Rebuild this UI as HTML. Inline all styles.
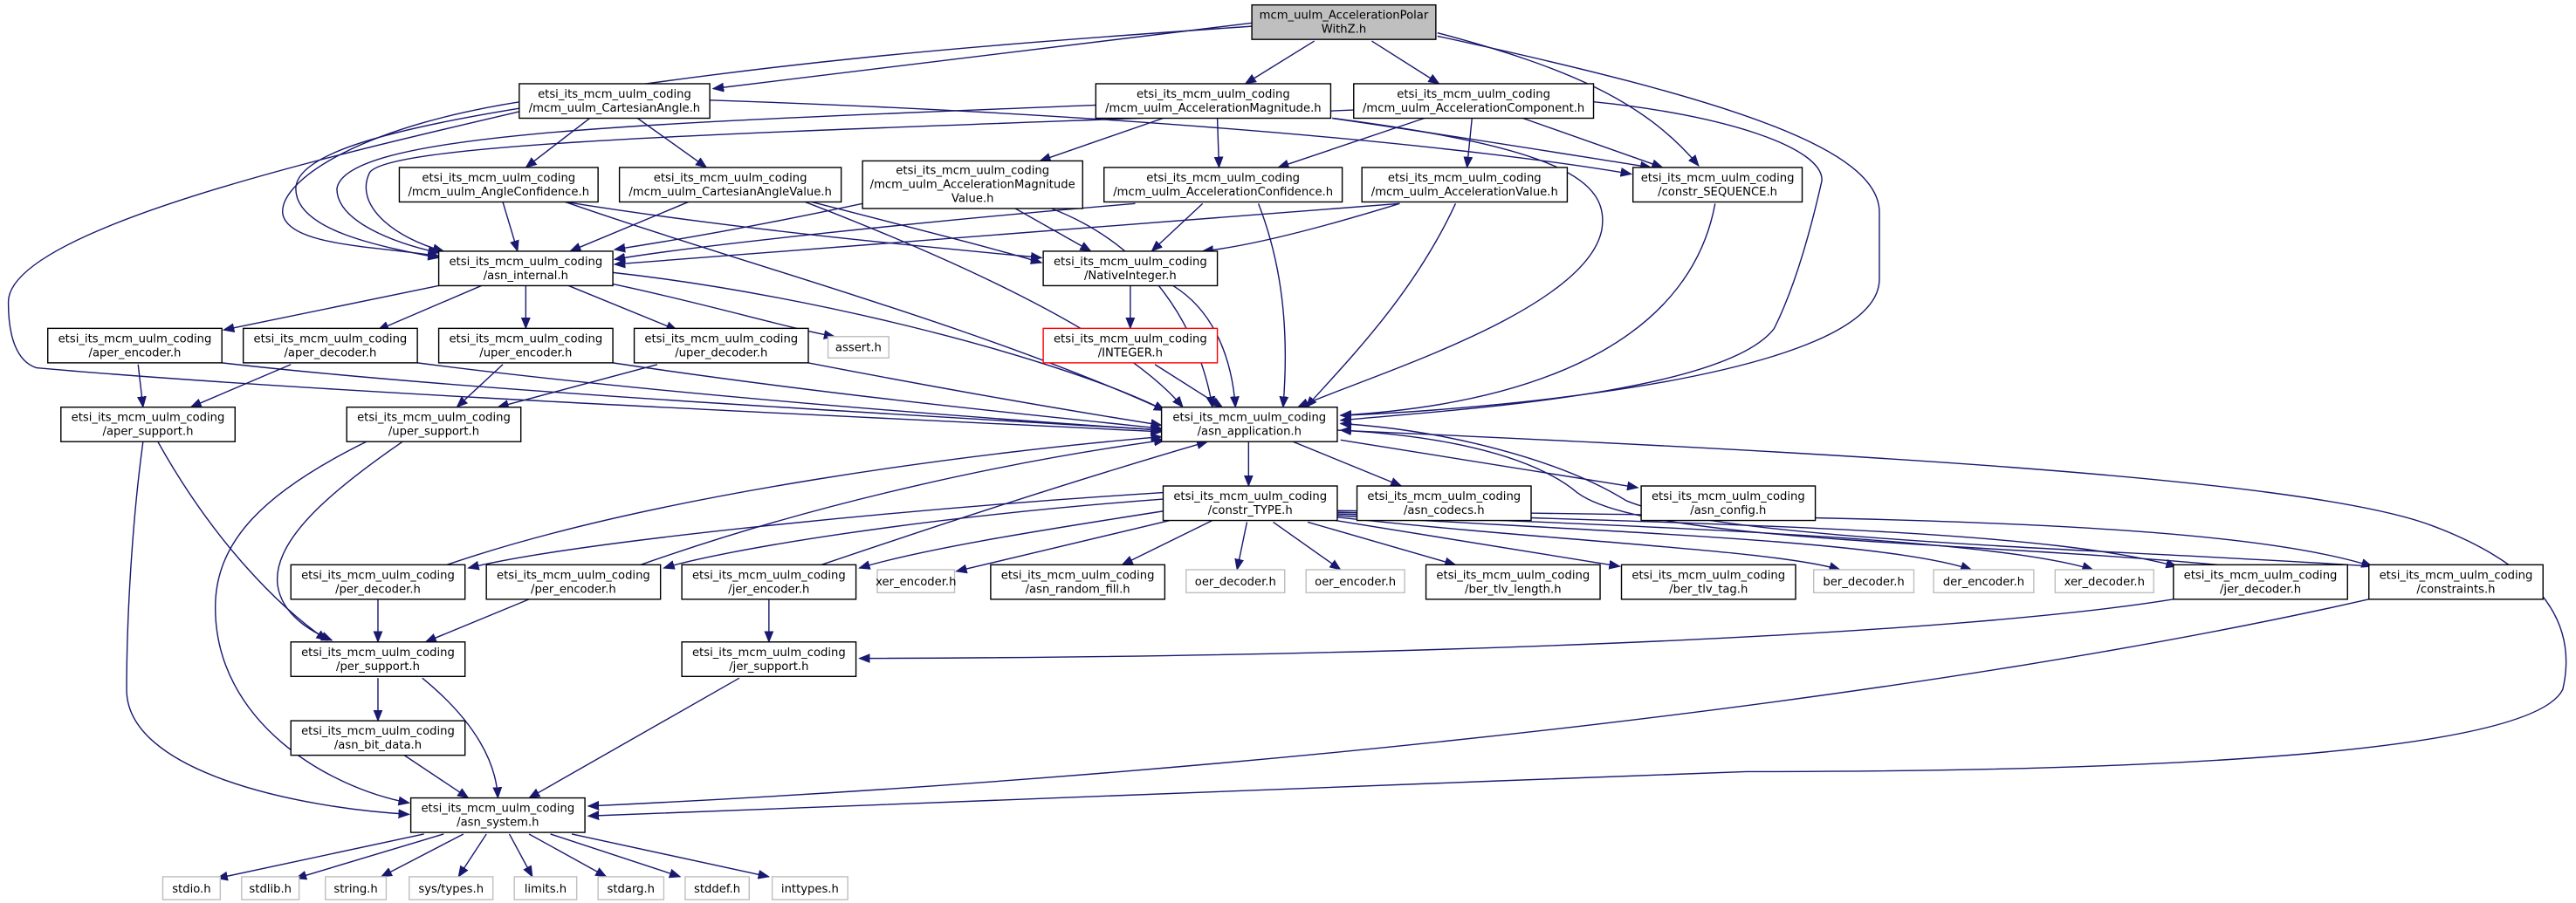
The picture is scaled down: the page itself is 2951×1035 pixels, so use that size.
<!DOCTYPE html>
<html><head><meta charset="utf-8"><style>
html,body{margin:0;padding:0;background:#fff;}
svg{display:block;}
text{font-family:"DejaVu Sans","Liberation Sans",sans-serif;font-size:7px;fill:#000;text-anchor:middle;}
.n{fill:#fff;stroke:#000;stroke-width:0.75;}
.g{fill:#fff;stroke:#bfbfbf;stroke-width:0.75;}
.r{fill:#fff;stroke:#ff0000;stroke-width:0.75;}
.root{fill:#bfbfbf;stroke:#000;stroke-width:0.75;}
path.e{fill:none;stroke:#191970;stroke-width:0.75;marker-end:url(#a);}
</style></head><body>
<svg width="2951" height="1035" viewBox="0 0 1568 550" xmlns="http://www.w3.org/2000/svg">
<defs><marker id="a" markerWidth="8" markerHeight="6" refX="6.5" refY="3" orient="auto" markerUnits="userSpaceOnUse"><path d="M0,0.4 L6.5,3 L0,5.6 z" fill="#191970" stroke="#191970" stroke-width="0.5"/></marker></defs>

<!-- edges -->
<g>
<path class="e" d="M762,14 L434,54"/>
<path class="e" d="M762,16 C560,30 480,38 330,60 C220,75 170,110 172,130 C175,150 230,150 267,156"/>
<path class="e" d="M800,25 L758,51"/>
<path class="e" d="M835,25 L876,51"/>
<path class="e" d="M875,20 C950,40 1000,60 1034,101"/>
<path class="e" d="M875,22 C1050,60 1145,90 1144,130 L1144,170 C1144,230 900,250 816,253"/>
<path class="e" d="M970,62 C1050,70 1110,90 1109,110 C1100,150 1090,180 1080,200 C1050,240 880,250 816,256"/>
<path class="e" d="M316,66 C230,80 180,95 180,115 C180,140 230,150 267,157"/>
<path class="e" d="M316,68 C200,95 5,140 5,184 C5,205 10,220 22,224 C200,240 550,255 707,263"/>
<path class="e" d="M359,72 L320,102"/>
<path class="e" d="M388,72 L430,102"/>
<path class="e" d="M432,61 C700,70 900,90 993,106"/>
<path class="e" d="M708,72 L633,98"/>
<path class="e" d="M741,72 L742,102"/>
<path class="e" d="M811,72 C900,85 960,95 1005,102"/>
<path class="e" d="M667,64 C400,75 210,80 205,115 C205,135 240,148 267,154"/>
<path class="e" d="M811,72 C950,90 980,110 975,140 C965,190 830,230 790,248"/>
<path class="e" d="M867,72 L778,102"/>
<path class="e" d="M896,72 L893,102"/>
<path class="e" d="M927,72 L1012,102"/>
<path class="e" d="M824,67 C500,80 240,85 225,105 C215,125 240,145 270,153"/>
<path class="e" d="M306,123 L315,153"/>
<path class="e" d="M344,123 C450,140 560,150 634,157"/>
<path class="e" d="M344,123 C450,160 600,200 709,250"/>
<path class="e" d="M419,123 L347,153"/>
<path class="e" d="M494,123 C560,140 600,150 634,160"/>
<path class="e" d="M490,123 C560,150 680,200 720,248"/>
<path class="e" d="M525,124 C450,140 400,148 374,152"/>
<path class="e" d="M618,127 L664,153"/>
<path class="e" d="M640,127 C700,150 730,200 738,248"/>
<path class="e" d="M691,124 C560,135 420,150 374,158"/>
<path class="e" d="M732,124 L701,153"/>
<path class="e" d="M766,124 C780,160 785,200 781,248"/>
<path class="e" d="M852,124 C650,140 450,155 374,161"/>
<path class="e" d="M852,124 C800,140 760,150 732,153"/>
<path class="e" d="M886,124 C860,180 820,220 795,248"/>
<path class="e" d="M1044,124 C1030,200 950,245 816,253"/>
<path class="e" d="M688,174 L688,200"/>
<path class="e" d="M714,174 C740,190 750,220 752,248"/>
<path class="e" d="M703,222 L744,248"/>
<path class="e" d="M267,174 L136,201"/>
<path class="e" d="M293,174 L230,201"/>
<path class="e" d="M320,174 L320,200"/>
<path class="e" d="M346,174 L412,201"/>
<path class="e" d="M373,173 C430,185 480,200 508,205"/>
<path class="e" d="M373,166 C500,180 650,220 709,250"/>
<path class="e" d="M135,221 C300,240 600,255 707,262"/>
<path class="e" d="M254,221 C400,240 600,255 707,262"/>
<path class="e" d="M373,221 C500,240 620,252 707,261"/>
<path class="e" d="M492,221 C580,238 650,250 707,259"/>
<path class="e" d="M84,222 L87,248"/>
<path class="e" d="M177,222 L116,248"/>
<path class="e" d="M306,222 L278,248"/>
<path class="e" d="M400,222 L303,248"/>
<path class="e" d="M96,269 C130,330 170,370 199,390"/>
<path class="e" d="M87,269 C80,320 77,380 77,420 C77,470 180,492 249,496"/>
<path class="e" d="M245,269 C200,300 165,330 169,357 C172,375 190,385 202,390"/>
<path class="e" d="M223,269 C160,300 131,330 131,370 C131,440 200,480 249,489"/>
<path class="e" d="M230,365 L230,391"/>
<path class="e" d="M322,365 L259,391"/>
<path class="e" d="M468,365 L468,391"/>
<path class="e" d="M230,413 L230,439"/>
<path class="e" d="M257,413 C290,440 302,465 303,486"/>
<path class="e" d="M246,460 L285,486"/>
<path class="e" d="M450,413 L322,486"/>
<path class="e" d="M272,344 C400,300 600,275 707,266"/>
<path class="e" d="M390,344 C500,305 620,280 709,268"/>
<path class="e" d="M500,344 C600,310 680,285 735,269"/>
<path class="e" d="M760,269 L760,296"/>
<path class="e" d="M787,269 L853,296"/>
<path class="e" d="M816,268 L997,297"/>
<path class="e" d="M708,300 C550,310 350,330 285,346"/>
<path class="e" d="M708,304 C560,315 440,335 404,346"/>
<path class="e" d="M710,311 C620,325 560,335 523,346"/>
<path class="e" d="M712,317 L582,348"/>
<path class="e" d="M738,317 L683,344"/>
<path class="e" d="M759,318 L753,347"/>
<path class="e" d="M775,318 L816,347"/>
<path class="e" d="M796,318 L886,344"/>
<path class="e" d="M813,317 L986,345"/>
<path class="e" d="M814,315 C950,330 1080,335 1120,347"/>
<path class="e" d="M814,314 C1000,325 1150,330 1200,347"/>
<path class="e" d="M814,313 C1050,322 1220,330 1274,347"/>
<path class="e" d="M814,312 C1100,320 1250,325 1325,345"/>
<path class="e" d="M814,311 C1100,315 1350,315 1444,345"/>
<path class="e" d="M1350,344 C1200,330 1000,330 960,300 C930,275 870,265 816,262"/>
<path class="e" d="M1445,345 C1300,335 1050,330 990,305 C950,280 880,262 816,258"/>
<path class="e" d="M814,262 C1100,275 1400,290 1480,320 C1560,350 1567,390 1560,420 C1540,460 1300,470 1063,470 C800,480 500,490 358,497"/>
<path class="e" d="M1323,365 C1200,385 900,400 523,401"/>
<path class="e" d="M1442,365 C1200,420 800,470 358,491"/>
<path class="e" d="M258,508 L132,535"/>
<path class="e" d="M270,508 L180,535"/>
<path class="e" d="M282,508 L232,534"/>
<path class="e" d="M296,508 L279,534"/>
<path class="e" d="M310,508 L324,534"/>
<path class="e" d="M322,508 L369,534"/>
<path class="e" d="M335,508 L414,534"/>
<path class="e" d="M348,508 L468,534"/>
</g>

<!-- nodes -->
<g>
<rect class="root" x="762" y="3" width="112" height="21"/><text x="818" y="11.5">mcm_uulm_AccelerationPolar</text><text x="818" y="20">WithZ.h</text>
<rect class="n" x="316" y="51" width="116" height="21"/><text x="374" y="59.5">etsi_its_mcm_uulm_coding</text><text x="374" y="68">/mcm_uulm_CartesianAngle.h</text>
<rect class="n" x="667" y="51" width="143" height="21"/><text x="738.5" y="59.5">etsi_its_mcm_uulm_coding</text><text x="738.5" y="68">/mcm_uulm_AccelerationMagnitude.h</text>
<rect class="n" x="824" y="51" width="146" height="21"/><text x="897" y="59.5">etsi_its_mcm_uulm_coding</text><text x="897" y="68">/mcm_uulm_AccelerationComponent.h</text>
<rect class="n" x="994" y="102" width="103" height="21"/><text x="1045.5" y="110.5">etsi_its_mcm_uulm_coding</text><text x="1045.5" y="119">/constr_SEQUENCE.h</text>
<rect class="n" x="243" y="102" width="121" height="21"/><text x="303.5" y="110.5">etsi_its_mcm_uulm_coding</text><text x="303.5" y="119">/mcm_uulm_AngleConfidence.h</text>
<rect class="n" x="377" y="102" width="135" height="21"/><text x="444.5" y="110.5">etsi_its_mcm_uulm_coding</text><text x="444.5" y="119">/mcm_uulm_CartesianAngleValue.h</text>
<rect class="n" x="525" y="98" width="134" height="29"/><text x="592" y="106">etsi_its_mcm_uulm_coding</text><text x="592" y="114.5">/mcm_uulm_AccelerationMagnitude</text><text x="592" y="123">Value.h</text>
<rect class="n" x="672" y="102" width="145" height="21"/><text x="744.5" y="110.5">etsi_its_mcm_uulm_coding</text><text x="744.5" y="119">/mcm_uulm_AccelerationConfidence.h</text>
<rect class="n" x="829" y="102" width="125" height="21"/><text x="891.5" y="110.5">etsi_its_mcm_uulm_coding</text><text x="891.5" y="119">/mcm_uulm_AccelerationValue.h</text>
<rect class="n" x="267" y="153" width="106" height="21"/><text x="320" y="161.5">etsi_its_mcm_uulm_coding</text><text x="320" y="170">/asn_internal.h</text>
<rect class="n" x="635" y="153" width="106" height="21"/><text x="688" y="161.5">etsi_its_mcm_uulm_coding</text><text x="688" y="170">/NativeInteger.h</text>
<rect class="r" x="635" y="200" width="106" height="21"/><text x="688" y="208.5">etsi_its_mcm_uulm_coding</text><text x="688" y="217">/INTEGER.h</text>
<rect class="n" x="707" y="248" width="107" height="21"/><text x="760.5" y="256.5">etsi_its_mcm_uulm_coding</text><text x="760.5" y="265">/asn_application.h</text>
<rect class="n" x="29" y="200" width="106" height="21"/><text x="82" y="208.5">etsi_its_mcm_uulm_coding</text><text x="82" y="217">/aper_encoder.h</text>
<rect class="n" x="148" y="200" width="106" height="21"/><text x="201" y="208.5">etsi_its_mcm_uulm_coding</text><text x="201" y="217">/aper_decoder.h</text>
<rect class="n" x="267" y="200" width="106" height="21"/><text x="320" y="208.5">etsi_its_mcm_uulm_coding</text><text x="320" y="217">/uper_encoder.h</text>
<rect class="n" x="386" y="200" width="106" height="21"/><text x="439" y="208.5">etsi_its_mcm_uulm_coding</text><text x="439" y="217">/uper_decoder.h</text>
<rect class="g" x="504" y="205" width="37" height="13"/><text x="522.5" y="214">assert.h</text>
<rect class="n" x="37" y="248" width="106" height="21"/><text x="90" y="256.5">etsi_its_mcm_uulm_coding</text><text x="90" y="265">/aper_support.h</text>
<rect class="n" x="211" y="248" width="106" height="21"/><text x="264" y="256.5">etsi_its_mcm_uulm_coding</text><text x="264" y="265">/uper_support.h</text>
<rect class="n" x="708" y="296" width="106" height="21"/><text x="761" y="304.5">etsi_its_mcm_uulm_coding</text><text x="761" y="313">/constr_TYPE.h</text>
<rect class="n" x="826" y="296" width="106" height="21"/><text x="879" y="304.5">etsi_its_mcm_uulm_coding</text><text x="879" y="313">/asn_codecs.h</text>
<rect class="n" x="999" y="296" width="106" height="21"/><text x="1052" y="304.5">etsi_its_mcm_uulm_coding</text><text x="1052" y="313">/asn_config.h</text>
<rect class="n" x="177" y="344" width="106" height="21"/><text x="230" y="352.5">etsi_its_mcm_uulm_coding</text><text x="230" y="361">/per_decoder.h</text>
<rect class="n" x="296" y="344" width="106" height="21"/><text x="349" y="352.5">etsi_its_mcm_uulm_coding</text><text x="349" y="361">/per_encoder.h</text>
<rect class="n" x="415" y="344" width="106" height="21"/><text x="468" y="352.5">etsi_its_mcm_uulm_coding</text><text x="468" y="361">/jer_encoder.h</text>
<rect class="g" x="534" y="347" width="47" height="14"/><text x="557.5" y="356.5">xer_encoder.h</text>
<rect class="n" x="603" y="344" width="106" height="21"/><text x="656" y="352.5">etsi_its_mcm_uulm_coding</text><text x="656" y="361">/asn_random_fill.h</text>
<rect class="g" x="722" y="347" width="60" height="14"/><text x="752" y="356.5">oer_decoder.h</text>
<rect class="g" x="795" y="347" width="60" height="14"/><text x="825" y="356.5">oer_encoder.h</text>
<rect class="n" x="868" y="344" width="106" height="21"/><text x="921" y="352.5">etsi_its_mcm_uulm_coding</text><text x="921" y="361">/ber_tlv_length.h</text>
<rect class="n" x="987" y="344" width="106" height="21"/><text x="1040" y="352.5">etsi_its_mcm_uulm_coding</text><text x="1040" y="361">/ber_tlv_tag.h</text>
<rect class="g" x="1104" y="347" width="61" height="14"/><text x="1134.5" y="356.5">ber_decoder.h</text>
<rect class="g" x="1177" y="347" width="61" height="14"/><text x="1207.5" y="356.5">der_encoder.h</text>
<rect class="g" x="1251" y="347" width="60" height="14"/><text x="1281" y="356.5">xer_decoder.h</text>
<rect class="n" x="1323" y="344" width="106" height="21"/><text x="1376" y="352.5">etsi_its_mcm_uulm_coding</text><text x="1376" y="361">/jer_decoder.h</text>
<rect class="n" x="1442" y="344" width="106" height="21"/><text x="1495" y="352.5">etsi_its_mcm_uulm_coding</text><text x="1495" y="361">/constraints.h</text>
<rect class="n" x="177" y="391" width="106" height="21"/><text x="230" y="399.5">etsi_its_mcm_uulm_coding</text><text x="230" y="408">/per_support.h</text>
<rect class="n" x="415" y="391" width="106" height="21"/><text x="468" y="399.5">etsi_its_mcm_uulm_coding</text><text x="468" y="408">/jer_support.h</text>
<rect class="n" x="177" y="439" width="106" height="21"/><text x="230" y="447.5">etsi_its_mcm_uulm_coding</text><text x="230" y="456">/asn_bit_data.h</text>
<rect class="n" x="250" y="486" width="106" height="21"/><text x="303" y="494.5">etsi_its_mcm_uulm_coding</text><text x="303" y="503">/asn_system.h</text>
<rect class="g" x="99" y="534" width="35" height="14"/><text x="116.5" y="543.5">stdio.h</text>
<rect class="g" x="147" y="534" width="35" height="14"/><text x="164.5" y="543.5">stdlib.h</text>
<rect class="g" x="198" y="534" width="37" height="14"/><text x="216.5" y="543.5">string.h</text>
<rect class="g" x="249" y="534" width="51" height="14"/><text x="274.5" y="543.5">sys/types.h</text>
<rect class="g" x="313" y="534" width="38" height="14"/><text x="332" y="543.5">limits.h</text>
<rect class="g" x="364" y="534" width="40" height="14"/><text x="384" y="543.5">stdarg.h</text>
<rect class="g" x="417" y="534" width="39" height="14"/><text x="436.5" y="543.5">stddef.h</text>
<rect class="g" x="470" y="534" width="46" height="14"/><text x="493" y="543.5">inttypes.h</text>
</g>
</svg>
</body></html>
